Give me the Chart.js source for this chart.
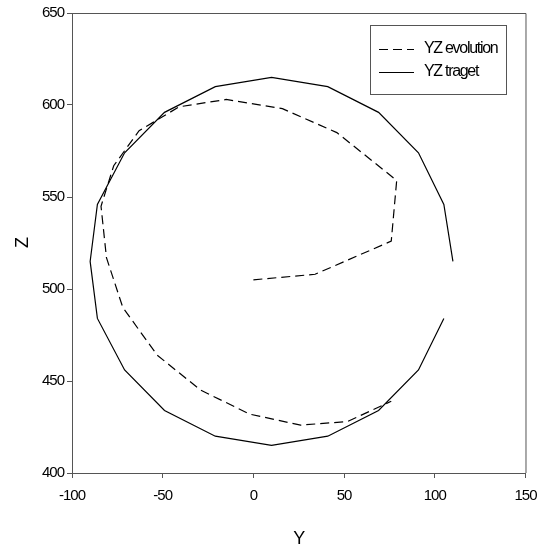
<!DOCTYPE html>
<html>
<head>
<meta charset="utf-8">
<script src="https://cdn.jsdelivr.net/npm/chart.js@4/dist/chart.umd.min.js"></script>
<style>
  html, body { margin: 0; padding: 0; background: #fff; }
  #wrap { width: 547px; height: 550px; }
</style>
</head>
<body>
<div id="wrap"><canvas id="c" width="547" height="550"></canvas></div>
<script>
// ---- data ----
const evolutionY = [0, 34, 76, 79, 46, 16, -15, -41, -63, -77, -84, -81, -72, -53, -29, -2, 26, 52, 76];
const evolutionZ = [505, 508, 526, 559, 585, 598, 603, 599, 586, 567, 545, 517, 490, 464, 445, 432, 426, 428, 439];
const targetY = [110, 105, 91, 69, 41, 10, -21, -49, -71, -86, -90, -86, -71, -49, -21, 10, 41, 69, 91, 105];
const targetZ = [515, 546, 574, 596, 610, 615, 610, 596, 574, 546, 515, 484, 456, 434, 420, 415, 420, 434, 456, 484];
const xTicks = [-100, -50, 0, 50, 100, 150];
const yTicks = [400, 450, 500, 550, 600, 650];
const seriesLabels = ['YZ evolution', 'YZ traget'];
const axisTitles = { x: 'Y', y: 'Z' };

const toPoints = (xs, ys) => xs.map((x, i) => ({ x: x, y: ys[i] }));

const FONT = 'Liberation Sans, Arial, sans-serif';
const AXIS_COLOR = '#555';

const framePlugin = {
  id: 'frame',
  beforeDraw(chart) {
    chart.ctx.letterSpacing = '-1px';
  },
  afterDraw(chart) {
    const { ctx, chartArea: a } = chart;
    ctx.save();
    ctx.strokeStyle = AXIS_COLOR;
    ctx.lineWidth = 1;
    ctx.beginPath();
    ctx.moveTo(a.left, a.top + 0.5);
    ctx.lineTo(a.right + 0.5, a.top + 0.5);
    ctx.lineTo(a.right + 0.5, a.bottom);
    ctx.stroke();

    // legend box (top-right inside plot)
    const bx = 370.5, by = 25.5, bw = 136, bh = 69;
    ctx.strokeStyle = '#555';
    ctx.strokeRect(bx, by, bw, bh);
    const rows = [49, 72];
    chart.data.datasets.forEach((ds, i) => {
      const y = rows[i] + 0.5;
      ctx.strokeStyle = '#000';
      ctx.lineWidth = 1.2;
      ctx.setLineDash(ds.borderDash || []);
      ctx.beginPath();
      ctx.moveTo(379, y);
      ctx.lineTo(414, y);
      ctx.stroke();
      ctx.setLineDash([]);
      ctx.fillStyle = '#000';
      ctx.font = '16px ' + FONT;
      ctx.letterSpacing = '-1.3px';
      ctx.textAlign = 'left';
      ctx.textBaseline = 'middle';
      ctx.fillText(ds.label, 424, rows[i]);
    });
    ctx.restore();
  }
};

new Chart(document.getElementById('c'), {
  type: 'scatter',
  data: {
    datasets: [
      {
        label: seriesLabels[0],
        data: toPoints(evolutionY, evolutionZ),
        showLine: true,
        borderColor: '#000',
        borderWidth: 1.2,
        borderDash: [9, 5],
        pointRadius: 0,
        tension: 0,
        fill: false
      },
      {
        label: seriesLabels[1],
        data: toPoints(targetY, targetZ),
        showLine: true,
        borderColor: '#000',
        borderWidth: 1.2,
        pointRadius: 0,
        tension: 0,
        fill: false
      }
    ]
  },
  options: {
    responsive: false,
    animation: false,
    layout: { padding: { top: 13, right: 18, left: 0, bottom: 0 } },
    plugins: { legend: { display: false }, tooltip: { enabled: false } },
    scales: {
      x: {
        type: 'linear',
        min: -100, max: 150,
        afterBuildTicks: (s) => { s.ticks = xTicks.map(v => ({ value: v })); },
        afterFit: (s) => { s.height = 77; },
        grid: { display: true, drawOnChartArea: false, drawTicks: true, tickLength: 5, color: AXIS_COLOR },
        border: { display: true, color: AXIS_COLOR, width: 1 },
        ticks: { color: '#000', font: { family: FONT, size: 15 }, padding: 9, maxRotation: 0 },
        title: { display: true, text: axisTitles.x, color: '#000', font: { family: FONT, size: 18 }, padding: { top: 0, bottom: 0 } }
      },
      y: {
        type: 'linear',
        min: 400, max: 650,
        afterBuildTicks: (s) => { s.ticks = yTicks.map(v => ({ value: v })); },
        afterFit: (s) => { s.width = 72; },
        grid: { display: true, drawOnChartArea: false, drawTicks: true, tickLength: 5, color: AXIS_COLOR },
        border: { display: true, color: AXIS_COLOR, width: 1 },
        ticks: { color: '#000', font: { family: FONT, size: 15 }, padding: 3 },
        title: { display: true, text: axisTitles.y, color: '#000', font: { family: FONT, size: 18 }, padding: { top: 12, bottom: 0 } }
      }
    }
  },
  plugins: [framePlugin]
});
</script>
</body>
</html>
